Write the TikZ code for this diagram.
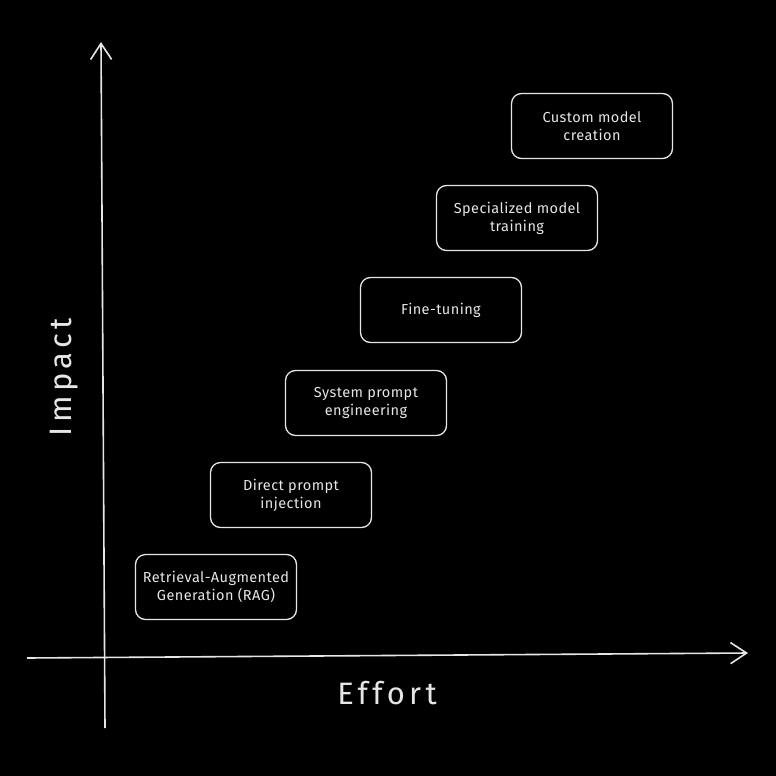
\documentclass[tikz,border=0pt]{standalone}
\usepackage{fontspec}
\setmainfont{Fira Sans}
\usetikzlibrary{arrows.meta}
\definecolor{ink}{HTML}{E6E6E6}
\newfontfamily\boxfont[LetterSpace=3]{Fira Sans}
\newfontfamily\labelfont[LetterSpace=14]{Fira Sans}
\tikzset{
  stepbox/.style={draw=ink, line width=1.3pt, rounded corners=10pt, minimum width=161pt, minimum height=65pt, align=center, text=ink, font=\boxfont\fontsize{14.5}{18}\selectfont, inner sep=0pt},
  axisline/.style={draw=ink, line width=1.6pt, -{Straight Barb[length=16pt,width=21pt,line width=1.6pt]}},
  axislabel/.style={text=ink, font=\labelfont\fontsize{31}{34}\selectfont}
}
\begin{document}
\begin{tikzpicture}[x=1pt,y=-1pt]
\fill[black] (0,0) rectangle (776,776);
\useasboundingbox (0,0) rectangle (776,776);
\coordinate (ybot) at (105,728);
\coordinate (ytop) at (101,42);
\coordinate (xleft) at (27,658);
\coordinate (xright) at (748,653);
\draw[axisline] (ybot) -- (ytop);
\draw[axisline] (xleft) -- (xright);
\node[stepbox] (rag) at (216,587) {Retrieval-Augmented\\Generation (RAG)};
\node[stepbox] (dpi) at (291,495) {Direct prompt\\injection};
\node[stepbox] (spe) at (366,403) {System prompt\\engineering};
\node[stepbox] (ft) at (441,310) {Fine-tuning};
\node[stepbox] (smt) at (517,218) {Specialized model\\training};
\node[stepbox] (cmc) at (592,126) {Custom model\\creation};
\node[axislabel, rotate=90] (impact) at (64,377) {Impact};
\node[axislabel] (effort) at (387,693) {Effort};
\end{tikzpicture}
\end{document}
